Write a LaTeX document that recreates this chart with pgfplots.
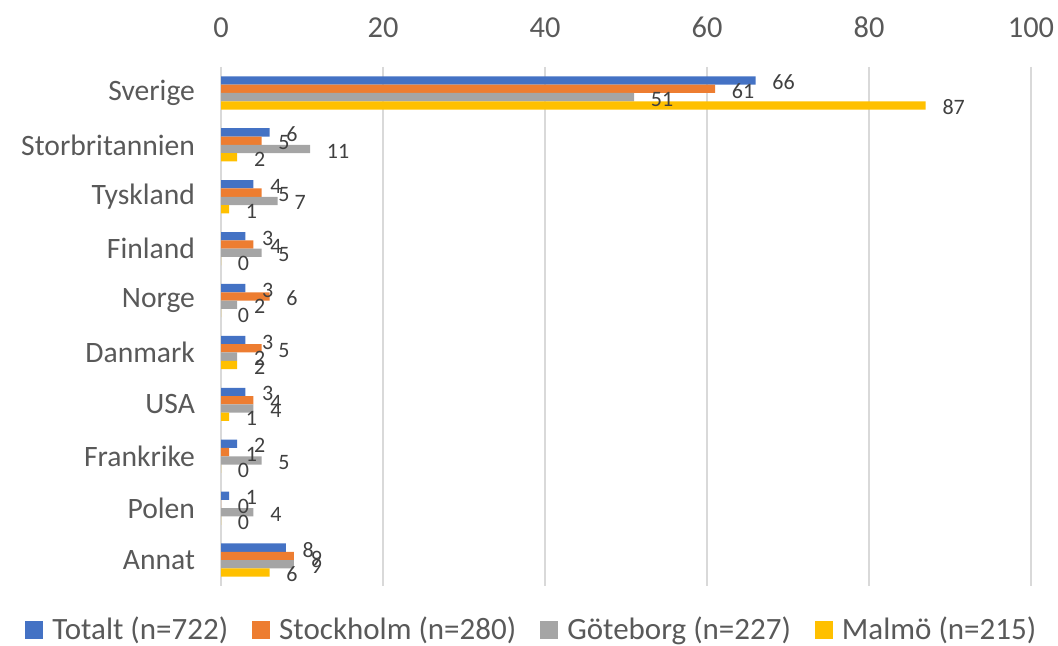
\documentclass[border=0pt]{standalone}
\usepackage{fontspec}
\setmainfont{Carlito}
\usepackage{pgfplots}
\pgfplotsset{compat=1.18}
\definecolor{cTot}{HTML}{4472C4}
\definecolor{cSto}{HTML}{ED7D31}
\definecolor{cGot}{HTML}{A5A5A5}
\definecolor{cMal}{HTML}{FFC000}
\definecolor{cTxt}{HTML}{595959}
\definecolor{cLbl}{HTML}{404040}
\definecolor{cGrid}{HTML}{D9D9D9}
\begin{document}
\begin{tikzpicture}
\path[use as bounding box] (0,0) rectangle (529pt,322.5pt);
\begin{axis}[
  at={(110.5pt,29.5pt)}, anchor=south west,
  scale only axis, width=405pt, height=259.5pt,
  xbar, bar width=0.16,
  xmin=0, xmax=100, xtick={0,20,40,60,80,100},
  ymin=-0.5, ymax=9.5, y dir=reverse,
  ytick={0,...,9},
  yticklabels={Sverige,Storbritannien,Tyskland,Finland,Norge,Danmark,USA,Frankrike,Polen,Annat},
  xticklabel pos=top,
  major tick length=0pt,
  axis line style={draw=none},
  xmajorgrids, grid style={cGrid, line width=0.75pt},
  /pgf/number format/assume math mode=true,
  xticklabel style={font=\fontsize{15.2}{18}\selectfont, text=cTxt, yshift=11pt},
  yticklabel style={font=\fontsize{14.8}{17}\selectfont, text=cTxt, xshift=-9.5pt},
  nodes near coords,
  nodes near coords style={font=\fontsize{11}{13}\selectfont, text=cLbl, anchor=west, xshift=4.9pt, yshift=-1pt},
  point meta=explicit symbolic,
  legend columns=4,
  legend style={at={(0.385,-0.0848)}, anchor=center, draw=none, fill=none,
    font=\fontsize{15.5}{18}\selectfont, text=cTxt,
    /tikz/every even column/.append style={column sep=10pt},
    /tikz/every odd column/.append style={column sep=2.5pt}},
  legend image code/.code={\fill[#1] (0pt,-4.5pt) rectangle (9pt,4.5pt);},
]
\addplot[fill=cTot, draw=none, bar shift=-0.24] coordinates {
(66,0)[66] (6,1)[6] (4,2)[4] (3,3)[3] (3,4)[3] (3,5)[3] (3,6)[3] (2,7)[2] (1,8)[1] (8,9)[8]};
\addplot[fill=cSto, draw=none, bar shift=-0.08] coordinates {
(61,0)[61] (5,1)[5] (5,2)[5] (4,3)[4] (6,4)[6] (5,5)[5] (4,6)[4] (1,7)[1] (0,8)[0] (9,9)[9]};
\addplot[fill=cGot, draw=none, bar shift=0.08] coordinates {
(51,0)[51] (11,1)[11] (7,2)[7] (5,3)[5] (2,4)[2] (2,5)[2] (4,6)[4] (5,7)[5] (4,8)[4] (9,9)[9]};
\addplot[fill=cMal, draw=none, bar shift=0.24] coordinates {
(87,0)[87] (2,1)[2] (1,2)[1] (0,3)[0] (0,4)[0] (2,5)[2] (1,6)[1] (0,7)[0] (0,8)[0] (6,9)[6]};
\legend{Totalt (n=722),Stockholm (n=280),Göteborg (n=227),Malmö (n=215)}
\end{axis}
\end{tikzpicture}
\end{document}
